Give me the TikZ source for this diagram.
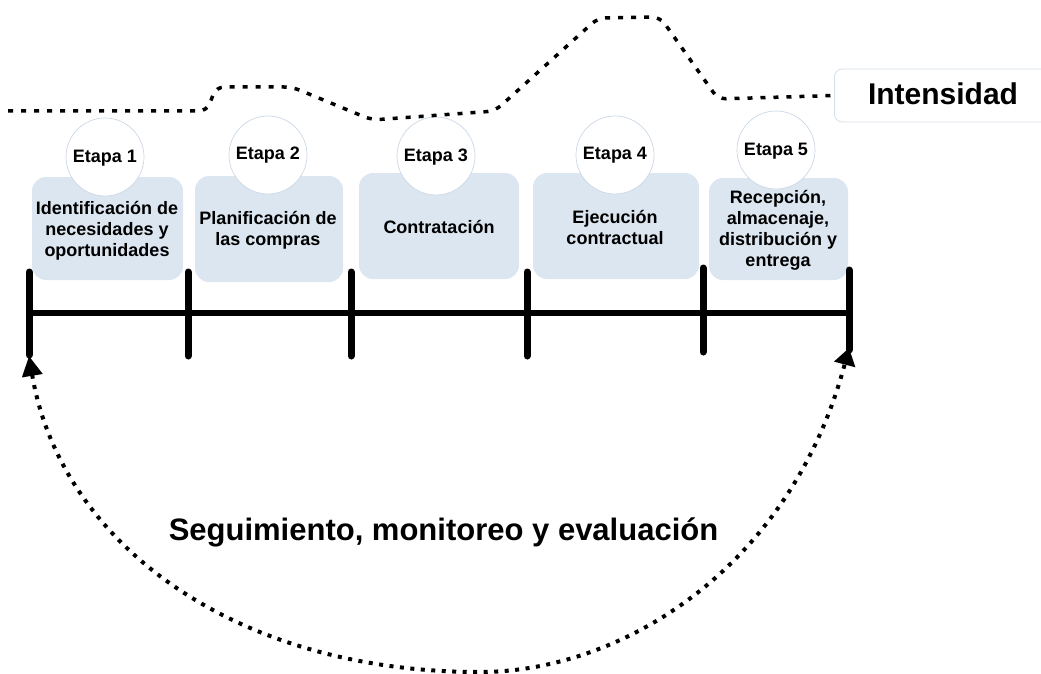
\documentclass[tikz,border=0pt]{standalone}
\usepackage{fontspec}
\setmainfont{Liberation Sans}
\usetikzlibrary{arrows.meta}
\definecolor{boxfill}{HTML}{DCE6F0}
\definecolor{ringline}{HTML}{CCD8E6}
\definecolor{tagline}{HTML}{D6DEE8}
\begin{document}
\begin{tikzpicture}[x=1pt,y=-1pt,
  stagebox/.style={fill=boxfill, rounded corners=14pt, inner sep=0pt},
  ring/.style={circle, fill=white, draw=ringline, line width=0.7pt, minimum size=78pt, inner sep=0pt},
  ringtext/.style={font=\bfseries\fontsize{18}{20}\selectfont, inner sep=0pt},
  boxtext/.style={align=center, font=\bfseries\fontsize{18}{21}\selectfont, inner sep=0pt},
  tickline/.style={line width=7pt, line cap=round},
  barline/.style={line width=6pt},
  intens/.style={line width=3.5pt, dash pattern=on 5pt off 8pt, rounded corners=8pt},
  loopline/.style={line width=4pt, dash pattern=on 4pt off 6.5pt}
]
\useasboundingbox (0,0) rectangle (1041,674);

% stage boxes
\node[stagebox, minimum width=151pt, minimum height=103pt] (b1) at (107.5,228.5) {};
\node[stagebox, minimum width=148pt, minimum height=106pt] (b2) at (269,229) {};
\node[stagebox, minimum width=160pt, minimum height=106pt] (b3) at (439,226) {};
\node[stagebox, minimum width=166pt, minimum height=106pt] (b4) at (616,226) {};
\node[stagebox, minimum width=139pt, minimum height=102pt] (b5) at (778.5,229) {};

% circles
\node[ring] (c1) at (105,157) {};
\node[ring] (c2) at (268,155) {};
\node[ring] (c3) at (436,156) {};
\node[ring] (c4) at (615,155) {};
\node[ring] (c5) at (776,150) {};
\node[ringtext] (e1) at (105,158) {Etapa 1};
\node[ringtext] (e2) at (268,155) {Etapa 2};
\node[ringtext] (e3) at (436,157) {Etapa 3};
\node[ringtext] (e4) at (615,155) {Etapa 4};
\node[ringtext] (e5) at (776,151) {Etapa 5};

% box texts
\node[boxtext] (t1) at (107,231) {Identificación de\\necesidades y\\oportunidades};
\node[boxtext] (t2) at (268,230) {Planificación de\\las compras};
\node[boxtext] (t3) at (439,227) {Contratación};
\node[boxtext] (t4) at (615,227) {Ejecución\\contractual};
\node[boxtext] (t5) at (778,230) {Recepción,\\almacenaje,\\distribución y\\entrega};

% intensity line and tag
\node[draw=tagline, fill=white, line width=0.8pt, rounded corners=8pt, minimum width=220pt, minimum height=53pt, anchor=west, inner sep=0pt] (tag) at (834,95.5) {};
\node[font=\bfseries\fontsize{30}{32}\selectfont, anchor=base, inner sep=0pt] (tagtext) at (943,105) {Intensidad};
\coordinate (i0) at (8,111);
\draw[intens] (i0) -- (207,111) -- (216,87) -- (292,87) -- (372,120) -- (495,111) -- (598,18) -- (660,17) -- (718,99) -- (tag.west);

% timeline
\coordinate (k0t) at (29,272); \coordinate (k0b) at (29,355);
\coordinate (k1t) at (188,272); \coordinate (k1b) at (188,356);
\coordinate (k2t) at (351,272); \coordinate (k2b) at (351,356);
\coordinate (k3t) at (527,272); \coordinate (k3b) at (527,356);
\coordinate (k4t) at (703,268); \coordinate (k4b) at (703,352);
\coordinate (k5t) at (849,270); \coordinate (k5b) at (849,350);
\coordinate (barL) at (29,313); \coordinate (barR) at (849,313);
\draw[barline] (barL) -- (barR);
\foreach \k in {0,...,5} { \draw[tickline] (k\k t) -- (k\k b); }

% monitoring loop
\coordinate (arcL) at (29,356);
\coordinate (arcB) at (480,672);
\coordinate (arcR) at (849,348);
\draw[loopline, {Triangle[length=20pt,width=20pt]}-{Triangle[length=17pt,width=21pt]}]
  (arcL) .. controls (60,540) and (230,672) .. (arcB) .. controls (620,672) and (790,570) .. (arcR);

\node[font=\bfseries\fontsize{31}{34}\selectfont, anchor=base, inner sep=0pt] (loop) at (443.5,540) {Seguimiento, monitoreo y evaluación};
\end{tikzpicture}
\end{document}
